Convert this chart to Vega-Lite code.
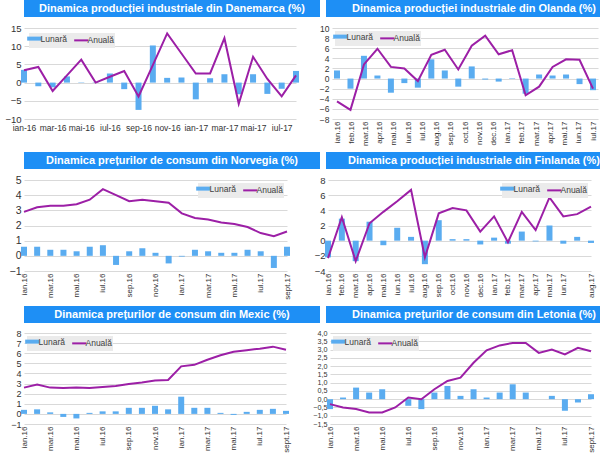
{
  "$schema": "https://vega.github.io/schema/vega-lite/v6.json",
  "padding": 0,
  "background": "white",
  "spacing": 6,
  "resolve": {"scale": {"color": "independent"}, "legend": {"color": "independent"}},
  "vconcat": [
    {
      "hconcat": [
        {"width": 296, "height": 17, "view": {"fill": "#1e8ff5", "stroke": null},
         "data": {"values": [{"t": "Dinamica producției industriale din Danemarca (%)"}]},
         "mark": {"type": "text", "color": "white", "font": "Liberation Sans", "fontWeight": "bold", "fontSize": 11},
         "encoding": {"text": {"field": "t"}}},
        {"width": 296, "height": 17, "view": {"fill": "#1e8ff5", "stroke": null},
         "data": {"values": [{"t": "Dinamica producției industriale din Olanda (%)"}]},
         "mark": {"type": "text", "color": "white", "font": "Liberation Sans", "fontWeight": "bold", "fontSize": 11},
         "encoding": {"text": {"field": "t"}}}
      ],
      "spacing": 6
    },
    {
      "hconcat": [
        {
          "width": 272, "height": 91,
          "data": {"values": [
            {"m": "ian-16", "lun": 3.5, "anu": 3.4}, {"m": "feb-16", "lun": -1.0, "anu": 4.3},
            {"m": "mar-16", "lun": -1.3, "anu": -2.3}, {"m": "apr-16", "lun": 1.7, "anu": 2.0},
            {"m": "mai-16", "lun": -0.1, "anu": 6.3}, {"m": "iun-16", "lun": 0.1, "anu": 0.0},
            {"m": "iul-16", "lun": 2.5, "anu": 1.6}, {"m": "aug-16", "lun": -1.8, "anu": 3.2},
            {"m": "sep-16", "lun": -7.5, "anu": -3.8}, {"m": "oct-16", "lun": 10.2, "anu": 4.8},
            {"m": "nov-16", "lun": 1.3, "anu": 13.5}, {"m": "dec-16", "lun": 1.4, "anu": 8.0},
            {"m": "ian-17", "lun": -4.6, "anu": 2.5}, {"m": "feb-17", "lun": 1.2, "anu": 2.5},
            {"m": "mar-17", "lun": 2.3, "anu": 12.2}, {"m": "apr-17", "lun": -3.2, "anu": -5.8},
            {"m": "mai-17", "lun": 2.3, "anu": 7.1}, {"m": "iun-17", "lun": -3.1, "anu": 1.0},
            {"m": "iul-17", "lun": -1.7, "anu": -3.8}, {"m": "aug-17", "lun": 3.2, "anu": 2.0}
          ]},
          "encoding": {"x": {"field": "m", "type": "ordinal", "sort": null, "title": null,
            "scale": {"type": "point", "padding": 0},
            "axis": {"values": ["ian-16","mar-16","mai-16","iul-16","sep-16","nov-16","ian-17","mar-17","mai-17","iul-17"], "labelAngle": 0, "labelOverlap": false, "labelFontSize": 8.5, "labelPadding": 4}}},
          "layer": [
            {"mark": {"type": "bar", "size": 6, "orient": "vertical"},
             "encoding": {
               "y": {"field": "lun", "type": "quantitative", "title": null, "scale": {"domain": [-10, 15], "nice": false},
                 "axis": {"values": [-10, -5, 0, 5, 10, 15], "labelOverlap": false, "minExtent": 17, "grid": true}},
               "color": {"datum": "Lunară", "type": "nominal", "scale": {"domain": ["Lunară", "Anuală"], "range": ["#5aacf0", "#9c1fa6"]},
                 "legend": {"orient": "top-left", "direction": "horizontal", "title": null, "fillColor": "#ebebeb", "padding": 1, "offset": 5, "symbolType": "stroke", "symbolSize": 200, "symbolStrokeWidth": 2, "labelFontSize": 8.5, "labelColor": "#404040", "columnPadding": 3, "labelOffset": 2,
                   "encode": {"symbols": {"update": {"strokeWidth": {"signal": "datum.value === 'Lunară' ? 4 : 2"}}}}}}
             }},
            {"mark": {"type": "line", "strokeWidth": 2},
             "encoding": {"y": {"field": "anu", "type": "quantitative", "title": null, "scale": {"domain": [-10, 15], "nice": false},
                 "axis": {"values": [-10, -5, 0, 5, 10, 15], "labelOverlap": false, "minExtent": 17, "grid": true}},
               "color": {"datum": "Anuală", "type": "nominal"}}}
          ]
        },
        {
          "width": 266, "height": 91,
          "data": {"values": [
            {"i": 0, "lun": 1.6, "anu": -4.5}, {"i": 1, "lun": -2.0, "anu": -6.2},
            {"i": 2, "lun": 4.5, "anu": 2.8}, {"i": 3, "lun": 0.6, "anu": 5.9},
            {"i": 4, "lun": -2.8, "anu": 2.3}, {"i": 5, "lun": -0.9, "anu": 2.0},
            {"i": 6, "lun": -1.8, "anu": -0.5}, {"i": 7, "lun": 3.8, "anu": 4.7},
            {"i": 8, "lun": 1.6, "anu": 5.7}, {"i": 9, "lun": -1.6, "anu": 1.8},
            {"i": 10, "lun": 2.4, "anu": 6.5}, {"i": 11, "lun": -0.2, "anu": 8.5},
            {"i": 12, "lun": -0.6, "anu": 4.8}, {"i": 13, "lun": 0.1, "anu": 5.6},
            {"i": 14, "lun": -3.0, "anu": -3.3}, {"i": 15, "lun": 0.8, "anu": -1.6},
            {"i": 16, "lun": 0.6, "anu": 2.3}, {"i": 17, "lun": 0.8, "anu": 3.8},
            {"i": 18, "lun": -1.1, "anu": 3.7}, {"i": 19, "lun": -2.3, "anu": -2.0}
          ]},
          "encoding": {"x": {"field": "i", "type": "quantitative", "title": null,
            "scale": {"domain": [0, 19], "nice": false, "zero": false},
            "axis": {"values": [0,1.0556,2.1111,3.1667,4.2222,5.2778,6.3333,7.3889,8.4444,9.5,10.5556,11.6111,12.6667,13.7222,14.7778,15.8333,16.8889,17.9444,19],
              "labelExpr": "['ian.16','feb.16','mar.16','apr.16','mai.16','iun.16','iul.16','aug.16','sep.16','oct.16','nov.16','dec.16','ian.17','feb.17','mar.17','apr.17','mai.17','iun.17','iul.17'][round(datum.value*18/19)]",
              "labelAngle": -90, "labelOverlap": false, "labelFlush": false, "grid": false}}},
          "layer": [
            {"mark": {"type": "bar", "size": 6, "orient": "vertical"},
             "encoding": {
               "y": {"field": "lun", "type": "quantitative", "title": null, "scale": {"domain": [-8, 10], "nice": false},
                 "axis": {"values": [-8, -6, -4, -2, 0, 2, 4, 6, 8, 10], "labelOverlap": false, "minExtent": 14, "grid": true, "labelFontSize": 8.5}},
               "color": {"datum": "Lunară", "type": "nominal", "scale": {"domain": ["Lunară", "Anuală"], "range": ["#5aacf0", "#9c1fa6"]},
                 "legend": {"orient": "top-left", "direction": "horizontal", "title": null, "fillColor": "#ebebeb", "padding": 1, "offset": 3, "symbolType": "stroke", "symbolSize": 200, "symbolStrokeWidth": 2, "labelFontSize": 8.5, "labelColor": "#404040", "columnPadding": 3, "labelOffset": 2,
                   "encode": {"symbols": {"update": {"strokeWidth": {"signal": "datum.value === 'Lunară' ? 4 : 2"}}}}}}
             }},
            {"mark": {"type": "line", "strokeWidth": 2},
             "encoding": {"y": {"field": "anu", "type": "quantitative", "title": null, "scale": {"domain": [-8, 10], "nice": false},
                 "axis": {"values": [-8, -6, -4, -2, 0, 2, 4, 6, 8, 10], "labelOverlap": false, "minExtent": 14, "grid": true, "labelFontSize": 8.5}},
               "color": {"datum": "Anuală", "type": "nominal"}}}
          ]
        }
      ],
      "spacing": 18,
      "resolve": {"scale": {"color": "independent"}, "legend": {"color": "independent"}}
    },
    {
      "hconcat": [
        {"width": 296, "height": 17, "view": {"fill": "#1e8ff5", "stroke": null},
         "data": {"values": [{"t": "Dinamica prețurilor de consum din Norvegia (%)"}]},
         "mark": {"type": "text", "color": "white", "font": "Liberation Sans", "fontWeight": "bold", "fontSize": 11},
         "encoding": {"text": {"field": "t"}}},
        {"width": 296, "height": 17, "view": {"fill": "#1e8ff5", "stroke": null},
         "data": {"values": [{"t": "Dinamica producției industriale din Finlanda (%)"}]},
         "mark": {"type": "text", "color": "white", "font": "Liberation Sans", "fontWeight": "bold", "fontSize": 11},
         "encoding": {"text": {"field": "t"}}}
      ],
      "spacing": 6
    },
    {
      "hconcat": [
        {
          "width": 263, "height": 91,
          "data": {"values": [
            {"m": "ian.16", "lun": 0.6, "anu": 2.9}, {"m": "feb.16", "lun": 0.6, "anu": 3.2},
            {"m": "mar.16", "lun": 0.4, "anu": 3.3}, {"m": "apr.16", "lun": 0.4, "anu": 3.3},
            {"m": "mai.16", "lun": 0.3, "anu": 3.4}, {"m": "iun.16", "lun": 0.6, "anu": 3.7},
            {"m": "iul.16", "lun": 0.7, "anu": 4.4}, {"m": "aug.16", "lun": -0.6, "anu": 4.0},
            {"m": "sep.16", "lun": 0.3, "anu": 3.6}, {"m": "oct.16", "lun": 0.5, "anu": 3.7},
            {"m": "nov.16", "lun": 0.2, "anu": 3.6}, {"m": "dec.16", "lun": -0.5, "anu": 3.5},
            {"m": "ian.17", "lun": -0.05, "anu": 2.8}, {"m": "feb.17", "lun": 0.4, "anu": 2.5},
            {"m": "mar.17", "lun": 0.3, "anu": 2.4}, {"m": "apr.17", "lun": 0.2, "anu": 2.2},
            {"m": "mai.17", "lun": 0.2, "anu": 2.1}, {"m": "iun.17", "lun": 0.4, "anu": 1.9},
            {"m": "iul.17", "lun": 0.3, "anu": 1.5}, {"m": "aug.17", "lun": -0.8, "anu": 1.3},
            {"m": "sept.17", "lun": 0.6, "anu": 1.6}
          ]},
          "encoding": {"x": {"field": "m", "type": "ordinal", "sort": null, "title": null,
            "scale": {"type": "point", "padding": 0},
            "axis": {"values": ["ian.16","mar.16","mai.16","iul.16","sep.16","nov.16","ian.17","mar.17","mai.17","iul.17","sept.17"], "labelAngle": -90, "labelOverlap": false}}},
          "layer": [
            {"mark": {"type": "bar", "size": 6, "orient": "vertical"},
             "encoding": {
               "y": {"field": "lun", "type": "quantitative", "title": null, "scale": {"domain": [-1, 5], "nice": false},
                 "axis": {"values": [-1, 0, 1, 2, 3, 4, 5], "labelOverlap": false, "minExtent": 24, "labelFontSize": 10.5, "grid": true}},
               "color": {"datum": "Lunară", "type": "nominal", "scale": {"domain": ["Lunară", "Anuală"], "range": ["#5aacf0", "#9c1fa6"]},
                 "legend": {"orient": "top-right", "direction": "horizontal", "title": null, "fillColor": "#ebebeb", "padding": 1, "offset": 3, "symbolType": "stroke", "symbolSize": 200, "symbolStrokeWidth": 2, "labelFontSize": 8.5, "labelColor": "#404040", "columnPadding": 3, "labelOffset": 2,
                   "encode": {"symbols": {"update": {"strokeWidth": {"signal": "datum.value === 'Lunară' ? 4 : 2"}}}}}}
             }},
            {"mark": {"type": "line", "strokeWidth": 2},
             "encoding": {"y": {"field": "anu", "type": "quantitative", "title": null, "scale": {"domain": [-1, 5], "nice": false},
                 "axis": {"values": [-1, 0, 1, 2, 3, 4, 5], "labelOverlap": false, "minExtent": 24, "labelFontSize": 10.5, "grid": true}},
               "color": {"datum": "Anuală", "type": "nominal"}}}
          ]
        },
        {
          "width": 263, "height": 91,
          "data": {"values": [
            {"m": "ian.16", "lun": -2.2, "anu": -2.3}, {"m": "feb.16", "lun": 2.9, "anu": 3.1},
            {"m": "mar.16", "lun": -2.7, "anu": -2.7}, {"m": "apr.16", "lun": 2.5, "anu": 2.3},
            {"m": "mai.16", "lun": -0.6, "anu": 3.8}, {"m": "iun.16", "lun": 1.7, "anu": 5.2},
            {"m": "iul.16", "lun": 0.5, "anu": 6.7}, {"m": "aug.16", "lun": -3.1, "anu": -2.2},
            {"m": "sep.16", "lun": 2.7, "anu": 3.6}, {"m": "oct.16", "lun": 0.2, "anu": 4.3},
            {"m": "nov.16", "lun": 0.2, "anu": 4.0}, {"m": "dec.16", "lun": -0.5, "anu": 1.2},
            {"m": "ian.17", "lun": 0.4, "anu": 3.2}, {"m": "feb.17", "lun": -0.4, "anu": -0.2},
            {"m": "mar.17", "lun": 1.2, "anu": 3.8}, {"m": "apr.17", "lun": -0.1, "anu": 1.4},
            {"m": "mai.17", "lun": 2.0, "anu": 5.7}, {"m": "iun.17", "lun": -0.4, "anu": 3.2},
            {"m": "iul.17", "lun": 0.5, "anu": 3.5}, {"m": "aug.17", "lun": -0.3, "anu": 4.5}
          ]},
          "encoding": {"x": {"field": "m", "type": "ordinal", "sort": null, "title": null,
            "scale": {"type": "point", "padding": 0},
            "axis": {"values": ["ian.16","feb.16","mar.16","apr.16","mai.16","iun.16","iul.16","aug.16","sep.16","oct.16","nov.16","dec.16","ian.17","feb.17","mar.17","apr.17","mai.17","iun.17","aug.17"], "labelAngle": -90, "labelOverlap": false}}},
          "layer": [
            {"mark": {"type": "bar", "size": 6, "orient": "vertical"},
             "encoding": {
               "y": {"field": "lun", "type": "quantitative", "title": null, "scale": {"domain": [-4, 8], "nice": false},
                 "axis": {"values": [-4, -2, 0, 2, 4, 6, 8], "labelOverlap": false, "minExtent": 14, "grid": true}},
               "color": {"datum": "Lunară", "type": "nominal", "scale": {"domain": ["Lunară", "Anuală"], "range": ["#5aacf0", "#9c1fa6"]},
                 "legend": {"orient": "top-right", "direction": "horizontal", "title": null, "fillColor": "#ebebeb", "padding": 1, "offset": 3, "symbolType": "stroke", "symbolSize": 200, "symbolStrokeWidth": 2, "labelFontSize": 8.5, "labelColor": "#404040", "columnPadding": 3, "labelOffset": 2,
                   "encode": {"symbols": {"update": {"strokeWidth": {"signal": "datum.value === 'Lunară' ? 4 : 2"}}}}}}
             }},
            {"mark": {"type": "line", "strokeWidth": 2},
             "encoding": {"y": {"field": "anu", "type": "quantitative", "title": null, "scale": {"domain": [-4, 8], "nice": false},
                 "axis": {"values": [-4, -2, 0, 2, 4, 6, 8], "labelOverlap": false, "minExtent": 14, "grid": true}},
               "color": {"datum": "Anuală", "type": "nominal"}}}
          ]
        }
      ],
      "spacing": 23,
      "resolve": {"scale": {"color": "independent"}, "legend": {"color": "independent"}}
    },
    {
      "hconcat": [
        {"width": 296, "height": 17, "view": {"fill": "#1e8ff5", "stroke": null},
         "data": {"values": [{"t": "Dinamica prețurilor de consum din Mexic (%)"}]},
         "mark": {"type": "text", "color": "white", "font": "Liberation Sans", "fontWeight": "bold", "fontSize": 11},
         "encoding": {"text": {"field": "t"}}},
        {"width": 296, "height": 17, "view": {"fill": "#1e8ff5", "stroke": null},
         "data": {"values": [{"t": "Dinamica prețurilor de consum din Letonia (%)"}]},
         "mark": {"type": "text", "color": "white", "font": "Liberation Sans", "fontWeight": "bold", "fontSize": 11},
         "encoding": {"text": {"field": "t"}}}
      ],
      "spacing": 6
    },
    {
      "hconcat": [
        {
          "width": 262, "height": 91,
          "data": {"values": [
            {"m": "ian.16", "lun": 0.4, "anu": 2.6}, {"m": "feb.16", "lun": 0.45, "anu": 2.9},
            {"m": "mar.16", "lun": 0.15, "anu": 2.6}, {"m": "apr.16", "lun": -0.3, "anu": 2.55},
            {"m": "mai.16", "lun": -0.45, "anu": 2.6}, {"m": "iun.16", "lun": 0.1, "anu": 2.55},
            {"m": "iul.16", "lun": 0.25, "anu": 2.65}, {"m": "aug.16", "lun": 0.25, "anu": 2.75},
            {"m": "sep.16", "lun": 0.6, "anu": 2.95}, {"m": "oct.16", "lun": 0.6, "anu": 3.1},
            {"m": "nov.16", "lun": 0.8, "anu": 3.3}, {"m": "dec.16", "lun": 0.45, "anu": 3.35},
            {"m": "ian.17", "lun": 1.7, "anu": 4.7}, {"m": "feb.17", "lun": 0.6, "anu": 4.85},
            {"m": "mar.17", "lun": 0.6, "anu": 5.35}, {"m": "apr.17", "lun": 0.1, "anu": 5.8},
            {"m": "mai.17", "lun": -0.1, "anu": 6.15}, {"m": "iun.17", "lun": 0.2, "anu": 6.3},
            {"m": "iul.17", "lun": 0.4, "anu": 6.45}, {"m": "aug.17", "lun": 0.5, "anu": 6.65},
            {"m": "sept.17", "lun": 0.3, "anu": 6.35}
          ]},
          "encoding": {"x": {"field": "m", "type": "ordinal", "sort": null, "title": null,
            "scale": {"type": "point", "padding": 0},
            "axis": {"values": ["ian.16","mar.16","mai.16","iul.16","sep.16","nov.16","ian.17","mar.17","mai.17","iul.17","sept.17"], "labelAngle": -90, "labelOverlap": false}}},
          "layer": [
            {"mark": {"type": "bar", "size": 6, "orient": "vertical"},
             "encoding": {
               "y": {"field": "lun", "type": "quantitative", "title": null, "scale": {"domain": [-1, 8], "nice": false},
                 "axis": {"values": [-1, 0, 1, 2, 3, 4, 5, 6, 7, 8], "labelOverlap": false, "minExtent": 23, "labelFontSize": 9, "grid": true}},
               "color": {"datum": "Lunară", "type": "nominal", "scale": {"domain": ["Lunară", "Anuală"], "range": ["#5aacf0", "#9c1fa6"]},
                 "legend": {"orient": "top-left", "direction": "horizontal", "title": null, "fillColor": "#ebebeb", "padding": 1, "offset": 3, "symbolType": "stroke", "symbolSize": 200, "symbolStrokeWidth": 2, "labelFontSize": 8.5, "labelColor": "#404040", "columnPadding": 3, "labelOffset": 2,
                   "encode": {"symbols": {"update": {"strokeWidth": {"signal": "datum.value === 'Lunară' ? 4 : 2"}}}}}}
             }},
            {"mark": {"type": "line", "strokeWidth": 2},
             "encoding": {"y": {"field": "anu", "type": "quantitative", "title": null, "scale": {"domain": [-1, 8], "nice": false},
                 "axis": {"values": [-1, 0, 1, 2, 3, 4, 5, 6, 7, 8], "labelOverlap": false, "minExtent": 23, "labelFontSize": 9, "grid": true}},
               "color": {"datum": "Anuală", "type": "nominal"}}}
          ]
        },
        {
          "width": 261, "height": 91,
          "data": {"values": [
            {"m": "ian.16", "lun": -0.6, "anu": -0.3}, {"m": "feb.16", "lun": 0.1, "anu": -0.5},
            {"m": "mar.16", "lun": 0.7, "anu": -0.6}, {"m": "apr.16", "lun": 0.4, "anu": -0.8},
            {"m": "mai.16", "lun": 0.6, "anu": -0.8}, {"m": "iun.16", "lun": 0.0, "anu": -0.5},
            {"m": "iul.16", "lun": -0.4, "anu": 0.1}, {"m": "aug.16", "lun": -0.6, "anu": 0.0},
            {"m": "sep.16", "lun": 0.4, "anu": 0.6}, {"m": "oct.16", "lun": 0.8, "anu": 1.1},
            {"m": "nov.16", "lun": 0.2, "anu": 1.3}, {"m": "dec.16", "lun": 0.6, "anu": 2.2},
            {"m": "ian.17", "lun": 0.1, "anu": 2.95}, {"m": "feb.17", "lun": 0.4, "anu": 3.25},
            {"m": "mar.17", "lun": 0.9, "anu": 3.4}, {"m": "apr.17", "lun": 0.4, "anu": 3.4},
            {"m": "mai.17", "lun": 0.0, "anu": 2.8}, {"m": "iun.17", "lun": 0.2, "anu": 3.0},
            {"m": "iul.17", "lun": -0.7, "anu": 2.7}, {"m": "aug.17", "lun": -0.2, "anu": 3.1},
            {"m": "sept.17", "lun": 0.3, "anu": 2.9}
          ]},
          "encoding": {"x": {"field": "m", "type": "ordinal", "sort": null, "title": null,
            "scale": {"type": "point", "padding": 0},
            "axis": {"values": ["ian.16","mar.16","mai.16","iul.16","sep.16","nov.16","ian.17","mar.17","mai.17","iul.17","sept.17"], "labelAngle": -90, "labelOverlap": false}}},
          "layer": [
            {"mark": {"type": "bar", "size": 6, "orient": "vertical"},
             "encoding": {
               "y": {"field": "lun", "type": "quantitative", "title": null, "scale": {"domain": [-1.5, 4], "nice": false},
                 "axis": {"values": [-1.5, -1, -0.5, 0, 0.5, 1, 1.5, 2, 2.5, 3, 3.5, 4], "labelOverlap": false, "minExtent": 26, "grid": true, "labelFontSize": 7.2,
                   "labelExpr": "replace(format(datum.value, '.1f'), '.', ',')"}},
               "color": {"datum": "Lunară", "type": "nominal", "scale": {"domain": ["Lunară", "Anuală"], "range": ["#5aacf0", "#9c1fa6"]},
                 "legend": {"orient": "top-left", "direction": "horizontal", "title": null, "fillColor": "#ebebeb", "padding": 1, "offset": 3, "symbolType": "stroke", "symbolSize": 200, "symbolStrokeWidth": 2, "labelFontSize": 8.5, "labelColor": "#404040", "columnPadding": 3, "labelOffset": 2,
                   "encode": {"symbols": {"update": {"strokeWidth": {"signal": "datum.value === 'Lunară' ? 4 : 2"}}}}}}
             }},
            {"mark": {"type": "line", "strokeWidth": 2},
             "encoding": {"y": {"field": "anu", "type": "quantitative", "title": null, "scale": {"domain": [-1.5, 4], "nice": false},
                 "axis": {"values": [-1.5, -1, -0.5, 0, 0.5, 1, 1.5, 2, 2.5, 3, 3.5, 4], "labelOverlap": false, "minExtent": 26, "grid": true, "labelFontSize": 7.2,
                   "labelExpr": "replace(format(datum.value, '.1f'), '.', ',')"}},
               "color": {"datum": "Anuală", "type": "nominal"}}}
          ]
        }
      ],
      "spacing": 14,
      "resolve": {"scale": {"color": "independent"}, "legend": {"color": "independent"}}
    }
  ],
  "config": {
    "view": {"stroke": null},
    "font": "Liberation Sans",
    "axis": {"labelFont": "Liberation Sans", "labelFontSize": 9.5, "labelColor": "#333333", "domain": false, "ticks": false, "gridColor": "#d9d9d9", "labelPadding": 3},
    "axisX": {"grid": false, "labelFontSize": 8, "labelPadding": 2},
    "legend": {"labelFont": "Liberation Sans"}
  }
}
